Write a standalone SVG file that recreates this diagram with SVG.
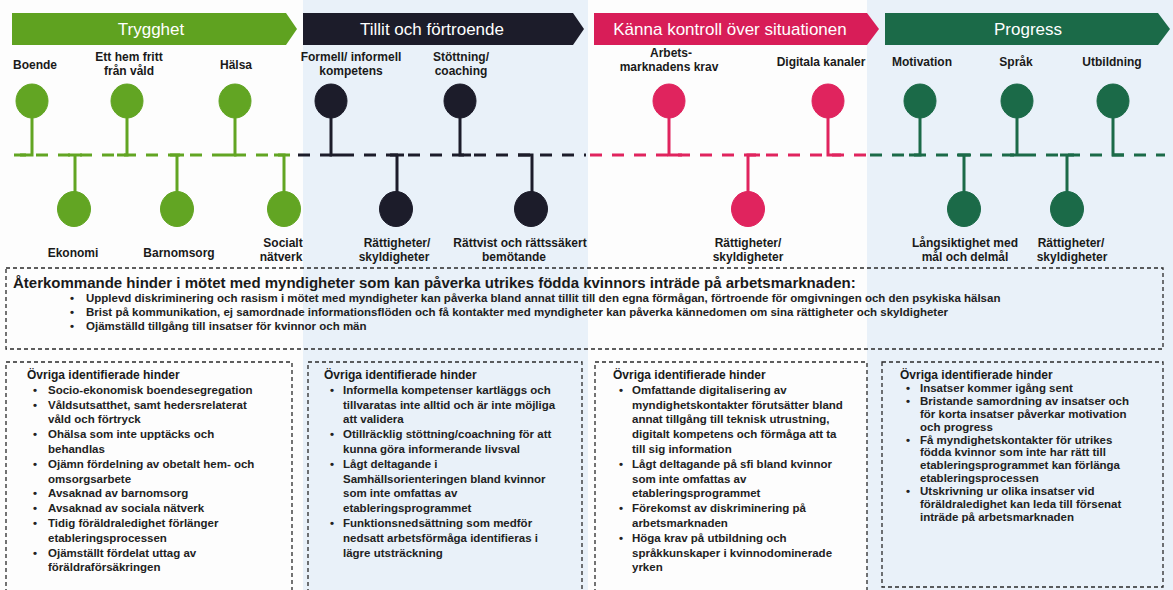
<svg xmlns="http://www.w3.org/2000/svg" width="1173" height="590" viewBox="0 0 1173 590">
<style>
.bt{font-family:"Liberation Sans",Arial,sans-serif;font-size:17px;fill:#fff;text-anchor:middle}
.lb{font-family:"Liberation Sans",Arial,sans-serif;font-size:12px;font-weight:bold;fill:#1a1a1a;text-anchor:middle}
.box{fill:none;stroke:#2a2a2a;stroke-width:1.3;stroke-dasharray:4 3}
.ti{font-family:"Liberation Sans",Arial,sans-serif;font-size:12px;font-weight:bold;fill:#1a1a1a}
.it{font-family:"Liberation Sans",Arial,sans-serif;font-size:11.5px;font-weight:bold;fill:#222}
.mt{font-family:"Liberation Sans",Arial,sans-serif;font-size:15px;font-weight:bold;fill:#1a1a1a}
.mi{font-family:"Liberation Sans",Arial,sans-serif;font-size:11.5px;font-weight:bold;fill:#222}
.g{fill:#62a523;stroke:#62a523}
.k{fill:#1c1c2a;stroke:#1c1c2a}
.p{fill:#e0245e;stroke:#e0245e}
.d{fill:#1b6a48;stroke:#1b6a48}
.stem{stroke-width:3;fill:none}
.dash{stroke-width:3;fill:none;stroke-dasharray:12 10}
</style>
<rect width="1173" height="590" fill="#fdfdfd"/>
<rect x="303" y="0" width="285" height="590" fill="#e9f1f9"/>
<rect x="867" y="0" width="306" height="590" fill="#e9f1f9"/>

<g id="banner-trygghet">
<polygon points="12,13 286,13 297,29 286,45 12,45" fill="#5fa220"/>
<text class="bt" x="151" y="35">Trygghet</text>
</g>
<g id="banner-tillit">
<polygon points="303,13 573,13 584,29 573,45 303,45" fill="#1c1c2a"/>
<text class="bt" x="432" y="35">Tillit och förtroende</text>
</g>
<g id="banner-kanna">
<polygon points="594,13 867,13 879,29 867,45 594,45" fill="#d81d58"/>
<text class="bt" x="730" y="35">Känna kontroll över situationen</text>
</g>
<g id="banner-progress">
<polygon points="885,13 1158,13 1170,29 1158,45 885,45" fill="#1b6a48"/>
<text class="bt" x="1028" y="35">Progress</text>
</g>

<g id="connectors">
<line class="dash g" x1="14" y1="155" x2="292" y2="155"/>
<line class="dash k" x1="298" y1="155" x2="586" y2="155"/>
<line class="dash p" x1="590" y1="155" x2="866" y2="155"/>
<line class="dash d" x1="870" y1="155" x2="1165" y2="155"/>
</g>

<g id="node-boende"><path class="stem g" d="M32,115V155H20"/><ellipse class="g" cx="32" cy="101" rx="16" ry="17"/><text class="lb" x="35" y="69">Boende</text></g>
<g id="node-ett-hem"><path class="stem g" d="M127,115V155H117"/><ellipse class="g" cx="127" cy="101" rx="16" ry="17"/><text class="lb" x="129" y="61">Ett hem fritt</text><text class="lb" x="129" y="75">från våld</text></g>
<g id="node-halsa"><path class="stem g" d="M235,115V155H224"/><ellipse class="g" cx="235" cy="101" rx="16" ry="17"/><text class="lb" x="236" y="69">Hälsa</text></g>
<g id="node-formell"><path class="stem k" d="M331,115V155H342"/><ellipse class="k" cx="331" cy="101" rx="16" ry="17"/><text class="lb" x="351" y="61">Formell/ informell</text><text class="lb" x="351" y="75">kompetens</text></g>
<g id="node-stottning"><path class="stem k" d="M460,115V155H471"/><ellipse class="k" cx="460" cy="101" rx="16" ry="17"/><text class="lb" x="461" y="61">Stöttning/</text><text class="lb" x="461" y="75">coaching</text></g>
<g id="node-arbets"><path class="stem p" d="M669,115V155H682"/><ellipse class="p" cx="669" cy="101" rx="16" ry="17"/><text class="lb" x="671" y="57">Arbets-</text><text class="lb" x="669" y="71">marknadens krav</text></g>
<g id="node-digitala"><path class="stem p" d="M828,115V155H841"/><ellipse class="p" cx="828" cy="101" rx="16" ry="17"/><text class="lb" x="821" y="66">Digitala kanaler</text></g>
<g id="node-motivation"><path class="stem d" d="M920,115V155H909"/><ellipse class="d" cx="920" cy="101" rx="16" ry="17"/><text class="lb" x="922" y="66">Motivation</text></g>
<g id="node-sprak"><path class="stem d" d="M1017,115V155M1010,155H1024"/><ellipse class="d" cx="1017" cy="101" rx="16" ry="17"/><text class="lb" x="1016" y="66">Språk</text></g>
<g id="node-utbildning"><path class="stem d" d="M1113,115V155H1124"/><ellipse class="d" cx="1113" cy="101" rx="16" ry="17"/><text class="lb" x="1112" y="66">Utbildning</text></g>

<g id="node-ekonomi"><path class="stem g" d="M68,155H82M75,155V196"/><ellipse class="g" cx="74" cy="209" rx="16.5" ry="17.5"/><text class="lb" x="73" y="257">Ekonomi</text></g>
<g id="node-barnomsorg"><path class="stem g" d="M170,155H184M177,155V196"/><ellipse class="g" cx="177" cy="209" rx="16.5" ry="17.5"/><text class="lb" x="179" y="257">Barnomsorg</text></g>
<g id="node-socialt"><path class="stem g" d="M274,155H284V196"/><ellipse class="g" cx="284" cy="209" rx="16.5" ry="17.5"/><text class="lb" x="283" y="247">Socialt</text><text class="lb" x="281" y="261">nätverk</text></g>
<g id="node-rattigheter1"><path class="stem k" d="M390,155H404M397,155V196"/><ellipse class="k" cx="396" cy="209" rx="16.5" ry="17.5"/><text class="lb" x="397" y="247">Rättigheter/</text><text class="lb" x="394" y="261">skyldigheter</text></g>
<g id="node-rattvist"><path class="stem k" d="M518,155H532V196"/><ellipse class="k" cx="531" cy="209" rx="16.5" ry="17.5"/><text class="lb" x="520" y="247">Rättvist och rättssäkert</text><text class="lb" x="514" y="261">bemötande</text></g>
<g id="node-rattigheter2"><path class="stem p" d="M760,155H748V196"/><ellipse class="p" cx="748" cy="209" rx="16.5" ry="17.5"/><text class="lb" x="748" y="247">Rättigheter/</text><text class="lb" x="748" y="261">skyldigheter</text></g>
<g id="node-langsiktighet"><path class="stem d" d="M957,155H971M964,155V196"/><ellipse class="d" cx="964" cy="209" rx="16.5" ry="17.5"/><text class="lb" x="965" y="247">Långsiktighet med</text><text class="lb" x="965" y="261">mål och delmål</text></g>
<g id="node-rattigheter3"><path class="stem d" d="M1060,155H1074M1067,155V196"/><ellipse class="d" cx="1067" cy="209" rx="16.5" ry="17.5"/><text class="lb" x="1071" y="247">Rättigheter/</text><text class="lb" x="1072" y="261">skyldigheter</text></g>

<g id="common-barriers">
<rect class="box" x="6" y="268" width="1157" height="81"/>
<text class="mt" x="13" y="288">Återkommande hinder i mötet med myndigheter som kan påverka utrikes födda kvinnors inträde på arbetsmarknaden:</text>
<text class="mi" x="70" y="302">•</text><text class="mi" x="86" y="302">Upplevd diskriminering och rasism i mötet med myndigheter kan påverka bland annat tillit till den egna förmågan, förtroende för omgivningen och den psykiska hälsan</text>
<text class="mi" x="70" y="316">•</text><text class="mi" x="86" y="316">Brist på kommunikation, ej samordnade informationsflöden och få kontakter med myndigheter kan påverka kännedomen om sina rättigheter och skyldigheter</text>
<text class="mi" x="70" y="330">•</text><text class="mi" x="86" y="330">Ojämställd tillgång till insatser för kvinnor och män</text>
</g>

<g id="box-trygghet">
<path class="box" d="M6,600V362H292V600"/>
<text class="ti" x="27" y="379">Övriga identifierade hinder</text>
<g class="it">
<text x="33" y="393.8">•</text><text x="48" y="393.8">Socio-ekonomisk boendesegregation</text>
<text x="33" y="408.6">•</text><text x="48" y="408.6">Våldsutsatthet, samt hedersrelaterat</text>
<text x="48" y="423.4">våld och förtryck</text>
<text x="33" y="438.2">•</text><text x="48" y="438.2">Ohälsa som inte upptäcks och</text>
<text x="48" y="453">behandlas</text>
<text x="33" y="467.8">•</text><text x="48" y="467.8">Ojämn fördelning av obetalt hem- och</text>
<text x="48" y="482.6">omsorgsarbete</text>
<text x="33" y="497.4">•</text><text x="48" y="497.4">Avsaknad av barnomsorg</text>
<text x="33" y="512.2">•</text><text x="48" y="512.2">Avsaknad av sociala nätverk</text>
<text x="33" y="527">•</text><text x="48" y="527">Tidig föräldraledighet förlänger</text>
<text x="48" y="541.8">etableringsprocessen</text>
<text x="33" y="556.6">•</text><text x="48" y="556.6">Ojämställt fördelat uttag av</text>
<text x="48" y="571.4">föräldraförsäkringen</text>
</g>
</g>

<g id="box-tillit">
<path class="box" d="M308,600V362H582V600"/>
<text class="ti" x="324" y="379">Övriga identifierade hinder</text>
<g class="it">
<text x="330" y="393.8">•</text><text x="343" y="393.8">Informella kompetenser kartläggs och</text>
<text x="343" y="408.6">tillvaratas inte alltid och är inte möjliga</text>
<text x="343" y="423.4">att validera</text>
<text x="330" y="438.2">•</text><text x="343" y="438.2">Otillräcklig stöttning/coachning för att</text>
<text x="343" y="453">kunna göra informerande livsval</text>
<text x="330" y="467.8">•</text><text x="343" y="467.8">Lågt deltagande i</text>
<text x="343" y="482.6">Samhällsorienteringen bland kvinnor</text>
<text x="343" y="497.4">som inte omfattas av</text>
<text x="343" y="512.2">etableringsprogrammet</text>
<text x="330" y="527">•</text><text x="343" y="527">Funktionsnedsättning som medför</text>
<text x="343" y="541.8">nedsatt arbetsförmåga identifieras i</text>
<text x="343" y="556.6">lägre utsträckning</text>
</g>
</g>

<g id="box-kanna">
<path class="box" d="M595,600V362H867V600"/>
<text class="ti" x="613" y="379">Övriga identifierade hinder</text>
<g class="it">
<text x="619" y="393.8">•</text><text x="632" y="393.8">Omfattande digitalisering av</text>
<text x="632" y="408.6">myndighetskontakter förutsätter bland</text>
<text x="632" y="423.4">annat tillgång till teknisk utrustning,</text>
<text x="632" y="438.2">digitalt kompetens och förmåga att ta</text>
<text x="632" y="453">till sig information</text>
<text x="619" y="467.8">•</text><text x="632" y="467.8">Lågt deltagande på sfi bland kvinnor</text>
<text x="632" y="482.6">som inte omfattas av</text>
<text x="632" y="497.4">etableringsprogrammet</text>
<text x="619" y="512.2">•</text><text x="632" y="512.2">Förekomst av diskriminering på</text>
<text x="632" y="527">arbetsmarknaden</text>
<text x="619" y="541.8">•</text><text x="632" y="541.8">Höga krav på utbildning och</text>
<text x="632" y="556.6">språkkunskaper i kvinnodominerade</text>
<text x="632" y="571.4">yrken</text>
</g>
</g>

<g id="box-progress">
<rect class="box" x="882" y="362" width="281" height="225"/>
<text class="ti" x="900" y="379">Övriga identifierade hinder</text>
<g class="it">
<text x="906" y="391.9">•</text><text x="920" y="391.9">Insatser kommer igång sent</text>
<text x="906" y="404.8">•</text><text x="920" y="404.8">Bristande samordning av insatser och</text>
<text x="920" y="417.7">för korta insatser påverkar motivation</text>
<text x="920" y="430.6">och progress</text>
<text x="906" y="443.5">•</text><text x="920" y="443.5">Få myndighetskontakter för utrikes</text>
<text x="920" y="456.4">födda kvinnor som inte har rätt till</text>
<text x="920" y="469.3">etableringsprogrammet kan förlänga</text>
<text x="920" y="482.2">etableringsprocessen</text>
<text x="906" y="495.1">•</text><text x="920" y="495.1">Utskrivning ur olika insatser vid</text>
<text x="920" y="508">föräldraledighet kan leda till försenat</text>
<text x="920" y="520.9">inträde på arbetsmarknaden</text>
</g>
</g>
</svg>
